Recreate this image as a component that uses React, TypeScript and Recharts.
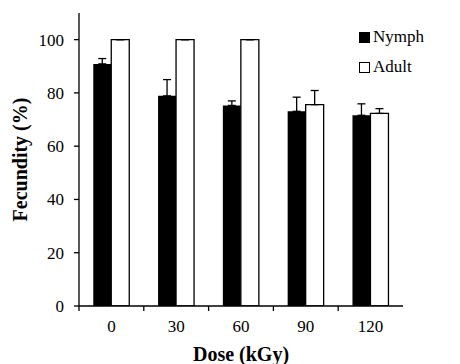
import { BarChart, Bar, XAxis, YAxis, ErrorBar, Legend } from 'recharts';

// dose groups (kGy)
const doses = ['0', '30', '60', '90', '120'];

// fecundity (%)
const nymph = [90.9, 78.9, 75.3, 73.1, 71.6];
const nymphErr = [2.0, 6.1, 1.7, 5.3, 4.3];
const adult = [100, 100, 100, 75.6, 72.3];
const adultErr = [0, 0, 0, 5.3, 1.8];

const yTicks = [0, 20, 40, 60, 80, 100];

const FONT = 'Liberation Serif, Times New Roman, serif';

const data = doses.map((dose, i) => ({
  dose,
  nymph: nymph[i],
  adult: adult[i],
  // only the upper half of the error bar is drawn
  nymphErr: [0, nymphErr[i]],
  adultErr: [0, adultErr[i]],
}));

const CHART_W = 468;
const CHART_H = 364;
const Y_AXIS_W = 79;
const BAND = (CHART_W - Y_AXIS_W) / doses.length;

// category tick: label in the middle, tick mark on the group boundary
const DoseTick = (props: any) => {
  const { x, y, payload } = props;
  const half = payload && payload.offset ? payload.offset : BAND / 2;
  return (
    <g>
      <line x1={x - half} y1={y - 8} x2={x - half} y2={y - 3} stroke="#000" strokeWidth={1.3} />
      <text x={x} y={y + 18} textAnchor="middle" fill="#000" style={{ fontFamily: FONT }} fontSize={17}>
        {payload.value}
      </text>
    </g>
  );
};

const YTick = (props: any) => {
  const { x, y, payload } = props;
  return (
    <text x={x} y={y} dy={6} textAnchor="end" fill="#000" style={{ fontFamily: FONT }} fontSize={17}>
      {payload.value}
    </text>
  );
};

const YLabel = (props: any) => {
  const vb = props.viewBox || { x: 0, y: 0, width: 0, height: 0 };
  const cx = 20;
  const cy = vb.y + vb.height / 2;
  return (
    <text
      x={cx}
      y={cy}
      transform={`rotate(-90, ${cx}, ${cy})`}
      textAnchor="middle"
      dominantBaseline="central"
      style={{ fontFamily: FONT }}
      fontWeight="bold"
      fontSize={20}
      fill="#000"
    >
      Fecundity (%)
    </text>
  );
};

const legendItems = [
  { name: 'Nymph', fill: '#000' },
  { name: 'Adult', fill: '#fff' },
];

const renderLegend = () => (
  <div style={{ fontFamily: FONT, fontSize: 17, color: '#000' }}>
    {legendItems.map((item) => (
      <div key={item.name} style={{ display: 'flex', alignItems: 'center', height: 30 }}>
        <span
          style={{
            display: 'inline-block',
            width: 9,
            height: 9,
            background: item.fill,
            border: '1px solid #000',
            marginRight: 3,
          }}
        />
        <span>{item.name}</span>
      </div>
    ))}
  </div>
);

export default function App() {
  return (
    <div style={{ marginLeft: -8, marginTop: -8, width: 460, height: 364, overflow: 'hidden', background: '#fff' }}>
      <BarChart
        width={CHART_W}
        height={CHART_H}
        data={data}
        margin={{ top: 13, right: 0, left: 0, bottom: 0 }}
        barGap={0}
        barCategoryGap="22%"
      >
        <XAxis
          dataKey="dose"
          height={58}
          axisLine={{ stroke: '#000', strokeWidth: 1.3 }}
          tickLine={false}
          tick={<DoseTick />}
          interval={0}
          label={{
            value: 'Dose (kGy)',
            position: 'insideBottom',
            offset: 3,
            fill: '#000',
            fontFamily: FONT,
            fontWeight: 'bold',
            fontSize: 20,
          }}
        />
        <YAxis
          width={Y_AXIS_W}
          domain={[0, 110]}
          ticks={yTicks}
          allowDataOverflow
          axisLine={{ stroke: '#000', strokeWidth: 1.3 }}
          tickLine={{ stroke: '#000', strokeWidth: 1.3 }}
          tickSize={5}
          tickMargin={10}
          tick={<YTick />}
          label={<YLabel />}
        />
        <Legend
          layout="vertical"
          verticalAlign="top"
          align="right"
          content={renderLegend}
          wrapperStyle={{ position: 'absolute', left: 359, top: 22, right: 'auto', width: 'auto' }}
        />
        <Bar dataKey="nymph" name="Nymph" fill="#000" isAnimationActive={false}>
          <ErrorBar dataKey="nymphErr" direction="y" width={4} stroke="#000" strokeWidth={1.3} />
        </Bar>
        <Bar dataKey="adult" name="Adult" fill="#fff" stroke="#000" strokeWidth={1.3} isAnimationActive={false}>
          <ErrorBar dataKey="adultErr" direction="y" width={4} stroke="#000" strokeWidth={1.3} />
        </Bar>
      </BarChart>
    </div>
  );
}
